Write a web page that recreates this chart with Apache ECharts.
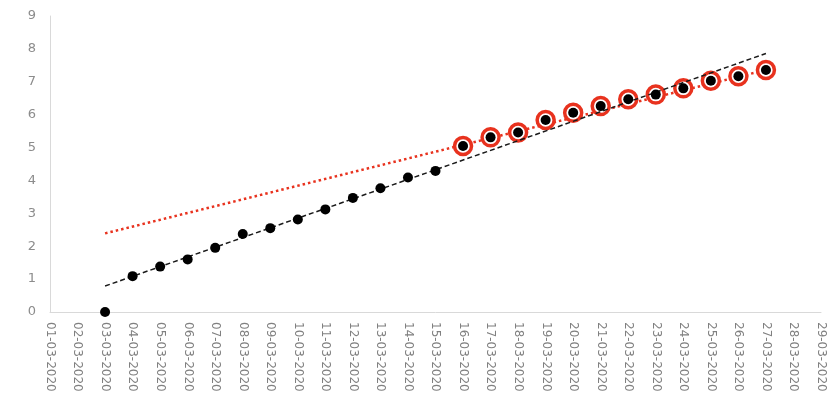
<!DOCTYPE html>
<html>
<head>
<meta charset="utf-8">
<script src="https://cdn.jsdelivr.net/npm/echarts@6/dist/echarts.min.js"></script>
<style>html,body{margin:0;padding:0;background:#fff;}#c{width:830px;height:399px;}</style>
</head>
<body>
<div id="c"></div>
<script>
const categories = ['01-03-2020','02-03-2020','03-03-2020','04-03-2020','05-03-2020','06-03-2020','07-03-2020','08-03-2020','09-03-2020','10-03-2020','11-03-2020','12-03-2020','13-03-2020','14-03-2020','15-03-2020','16-03-2020','17-03-2020','18-03-2020','19-03-2020','20-03-2020','21-03-2020','22-03-2020','23-03-2020','24-03-2020','25-03-2020','26-03-2020','27-03-2020','28-03-2020','29-03-2020'];
const pointDates = ['03-03-2020','04-03-2020','05-03-2020','06-03-2020','07-03-2020','08-03-2020','09-03-2020','10-03-2020','11-03-2020','12-03-2020','13-03-2020','14-03-2020','15-03-2020','16-03-2020','17-03-2020','18-03-2020','19-03-2020','20-03-2020','21-03-2020','22-03-2020','23-03-2020','24-03-2020','25-03-2020','26-03-2020','27-03-2020'];
const pointValues = [0, 1.09, 1.38, 1.60, 1.95, 2.37, 2.55, 2.81, 3.12, 3.47, 3.76, 4.09, 4.29, 5.05, 5.31, 5.46, 5.84, 6.06, 6.26, 6.47, 6.61, 6.80, 7.03, 7.17, 7.36];
const highlightDates = ['16-03-2020','17-03-2020','18-03-2020','19-03-2020','20-03-2020','21-03-2020','22-03-2020','23-03-2020','24-03-2020','25-03-2020','26-03-2020','27-03-2020'];
const blackTrendDates = ['03-03-2020','27-03-2020'];
const blackTrendValues = [0.79, 7.86];
const redTrendDates = ['03-03-2020','27-03-2020'];
const redTrendValues = [2.39, 7.36];
const yTicks = [0,1,2,3,4,5,6,7,8,9];

const points = pointDates.map((d,i)=>[d, pointValues[i]]);
const highlights = highlightDates.map(d => [d, pointValues[pointDates.indexOf(d)]]);
const blackTrend = blackTrendDates.map((d,i)=>[d, blackTrendValues[i]]);
const redTrend = redTrendDates.map((d,i)=>[d, redTrendValues[i]]);

const chart = echarts.init(document.getElementById('c'), null, {renderer:'canvas'});
chart.setOption({
  animation: false,
  backgroundColor: '#ffffff',
  grid: {left: 50, right: 9, top: 16, bottom: 87, containLabel: false},
  xAxis: {
    type: 'category',
    data: categories,
    boundaryGap: false,
    axisLine: {show: true, lineStyle: {color: '#d9d9d9', width: 1}},
    axisTick: {show: false},
    splitLine: {show: false},
    axisLabel: {rotate: -90, interval: 0, color: '#808080', fontSize: 12, fontFamily: 'DejaVu Sans', margin: 10}
  },
  yAxis: {
    type: 'value',
    min: yTicks[0],
    max: yTicks[yTicks.length-1],
    interval: 1,
    axisLine: {show: true, lineStyle: {color: '#d9d9d9', width: 1}},
    axisTick: {show: false},
    splitLine: {show: false},
    axisLabel: {color: '#8c8c8c', fontSize: 13, fontFamily: 'DejaVu Sans', margin: 14}
  },
  series: [
    {
      type: 'line', data: redTrend, symbol: 'none', z: 2,
      lineStyle: {color: '#e8321e', width: 2.5, type: [2.5, 3]}
    },
    {
      type: 'scatter', data: highlights, symbol: 'circle', symbolSize: 17, z: 3,
      itemStyle: {color: '#ffffff', borderColor: '#e8321e', borderWidth: 3.5, opacity: 1}
    },
    {
      type: 'line', data: blackTrend, symbol: 'none', z: 4,
      lineStyle: {color: '#1a1a1a', width: 1.5, type: [5, 3]}
    },
    {
      type: 'scatter', data: points, symbol: 'circle', symbolSize: 10, z: 5,
      itemStyle: {color: '#000000', opacity: 1}
    }
  ]
});
</script>
</body>
</html>
